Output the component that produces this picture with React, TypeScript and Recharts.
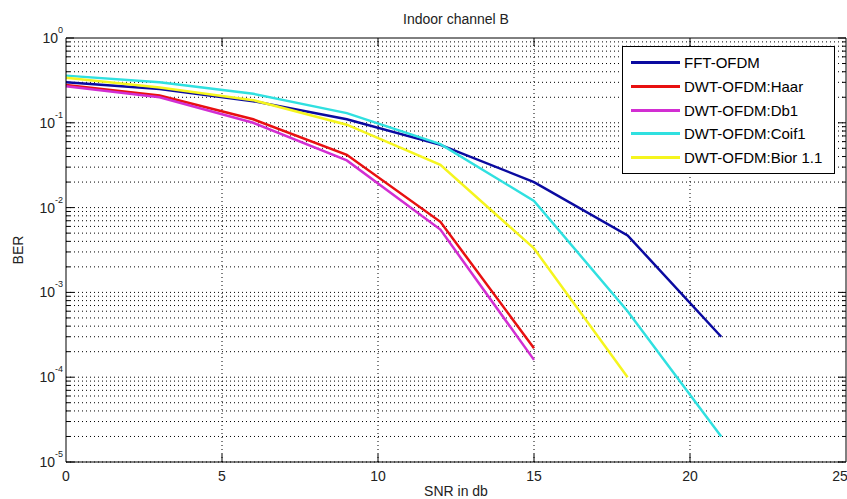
import React from 'react';
import { LineChart, Line, XAxis, YAxis, ReferenceLine, Legend } from 'recharts';

// SNR points (dB)
const snr = [0, 3, 6, 9, 12, 15, 18, 21];

// BER per scheme
const fftOfdm = [0.30, 0.25, 0.18, 0.11, 0.055, 0.02, 0.0047, 0.0003];
const haar = [0.28, 0.21, 0.11, 0.042, 0.0068, 0.00022];
const db1 = [0.27, 0.2, 0.1, 0.036, 0.0055, 0.00016];
const coif1 = [0.36, 0.3, 0.22, 0.13, 0.056, 0.012, 0.0006, 0.00002];
const bior = [0.34, 0.26, 0.185, 0.095, 0.032, 0.0033, 0.0001];

const xTicks = [0, 5, 10, 15, 20, 25];
const yTicks = [1e-5, 1e-4, 1e-3, 1e-2, 1e-1, 1];
const minorY: number[] = [];
yTicks.slice(0, -1).forEach((d) => {
  for (let k = 2; k <= 9; k++) minorY.push(d * k);
});

const series = [
  { key: 'fft', name: 'FFT-OFDM', color: '#0a0aa0', vals: fftOfdm },
  { key: 'haar', name: 'DWT-OFDM:Haar', color: '#e81010', vals: haar },
  { key: 'db1', name: 'DWT-OFDM:Db1', color: '#d22ed2', vals: db1 },
  { key: 'coif1', name: 'DWT-OFDM:Coif1', color: '#30e0e0', vals: coif1 },
  { key: 'bior', name: 'DWT-OFDM:Bior 1.1', color: '#f5f51e', vals: bior },
];

const data = snr.map((s, i) => {
  const row: any = { snr: s };
  series.forEach((sr) => { row[sr.key] = sr.vals[i]; });
  return row;
});

const FONT = '"Liberation Sans", Arial, sans-serif';

const YTick = ({ x, y, payload }: any) => {
  const e = Math.round(Math.log10(payload.value));
  return (
    <text x={x} y={y} textAnchor="end" fontFamily={FONT} fontSize={14} fill="#222">
      <tspan dy={5}>10</tspan>
      <tspan dy={-10} fontSize={9}>{e}</tspan>
    </text>
  );
};

const LegendBox = () => (
  <div style={{ background: '#fff', border: '1px solid #000', padding: '4px 8px 4px 8px', fontFamily: FONT }}>
    {series.map((p) => (
      <div key={p.key} style={{ display: 'flex', alignItems: 'center', height: 23.7 }}>
        <div style={{ width: 49, height: 3, background: p.color, marginRight: 4 }} />
        <span style={{ fontSize: 15, color: '#000' }}>{p.name}</span>
      </div>
    ))}
  </div>
);

const xTickLen = 8 / 31.2;
const yTickLen = 8 / 84.8;
const dots = { stroke: '#000', strokeDasharray: '1 3', strokeWidth: 1 };

export default function App() {
  return (
    <div style={{ position: 'absolute', left: 0, top: 0, width: 847, height: 499, background: '#fff' }}>
      <div style={{ position: 'absolute', top: 11, left: 66, width: 780, textAlign: 'center', fontFamily: FONT, fontSize: 14, color: '#222' }}>
        Indoor channel B
      </div>
      <LineChart width={847} height={499} data={data} margin={{ top: 38, right: 1, bottom: 0, left: 0 }}>
        <XAxis
          dataKey="snr"
          type="number"
          domain={[0, 25]}
          ticks={xTicks}
          height={37}
          tickSize={0}
          tickMargin={9}
          axisLine={{ stroke: '#000' }}
          tick={{ fontFamily: FONT, fontSize: 14, fill: '#222' }}
          label={{ value: 'SNR in db', position: 'insideBottom', offset: 3, style: { fontFamily: FONT, fontSize: 14, fill: '#222' } }}
        />
        <YAxis
          scale="log"
          domain={[1e-5, 1]}
          ticks={yTicks}
          allowDataOverflow
          width={66}
          tickSize={0}
          tickMargin={3}
          axisLine={{ stroke: '#000' }}
          tick={<YTick />}
          label={{ value: 'BER', angle: -90, position: 'insideLeft', offset: 18, style: { textAnchor: 'middle', fontFamily: FONT, fontSize: 14, fill: '#222' } }}
        />
        {/* dotted grid: decades, minor values, x majors */}
        {[...yTicks.slice(0, -1), ...minorY].map((v) => (
          <ReferenceLine key={'g' + v} y={v} {...dots} />
        ))}
        {[5, 10, 15, 20].map((v) => (
          <ReferenceLine key={'gx' + v} x={v} {...dots} />
        ))}
        <ReferenceLine x={25} stroke="#000" />
        <ReferenceLine y={1} stroke="#000" />
        {yTicks.map((v) => (
          <ReferenceLine key={'yl' + v} segment={[{ x: 0, y: v }, { x: xTickLen, y: v }]} stroke="#000" />
        ))}
        {yTicks.map((v) => (
          <ReferenceLine key={'yr' + v} segment={[{ x: 25 - xTickLen, y: v }, { x: 25, y: v }]} stroke="#000" />
        ))}
        {minorY.map((v) => (
          <ReferenceLine key={'ml' + v} segment={[{ x: 0, y: v }, { x: xTickLen / 2, y: v }]} stroke="#000" />
        ))}
        {minorY.map((v) => (
          <ReferenceLine key={'mr' + v} segment={[{ x: 25 - xTickLen / 2, y: v }, { x: 25, y: v }]} stroke="#000" />
        ))}
        {[5, 10, 15, 20].map((v) => (
          <ReferenceLine key={'xb' + v} segment={[{ x: v, y: 1e-5 }, { x: v, y: 1e-5 * Math.pow(10, yTickLen) }]} stroke="#000" />
        ))}
        {[5, 10, 15, 20].map((v) => (
          <ReferenceLine key={'xt' + v} segment={[{ x: v, y: Math.pow(10, -yTickLen) }, { x: v, y: 1 }]} stroke="#000" />
        ))}
        {series.map((s) => (
          <Line
            key={s.key}
            dataKey={s.key}
            name={s.name}
            type="linear"
            stroke={s.color}
            strokeWidth={2.5}
            dot={false}
            isAnimationActive={false}
          />
        ))}
        <Legend
          layout="vertical"
          align="center"
          verticalAlign="middle"
          content={<LegendBox />}
          wrapperStyle={{ left: 622, top: 46, width: 213, height: 'auto' }}
        />
      </LineChart>
    </div>
  );
}
